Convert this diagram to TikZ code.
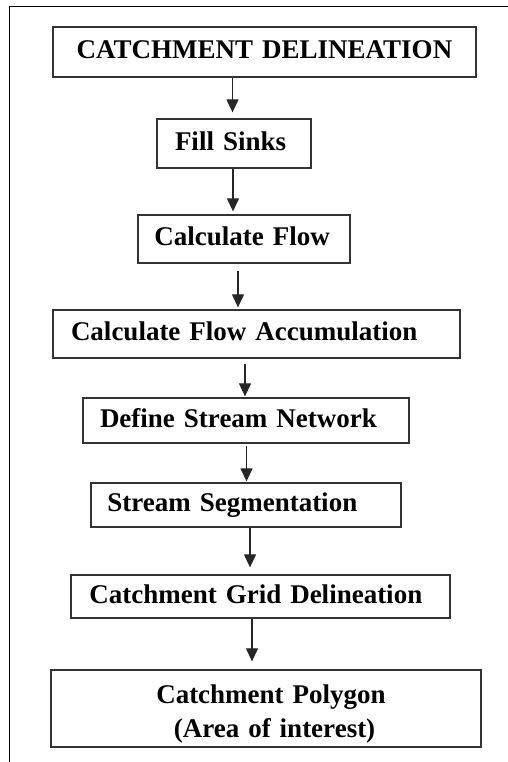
\documentclass[tikz,border=0pt]{standalone}
\usepackage{fontspec}
\setmainfont{Liberation Serif}
\usetikzlibrary{arrows.meta}
\begin{document}
\begin{tikzpicture}[x=1pt,y=-1pt,
  basebox/.style={draw=black!80,line width=1.3pt,inner ysep=0pt,align=left,
    font=\fontsize{27}{30}\selectfont\bfseries},
  box/.style={basebox,text height=18pt,text depth=5pt},
  arr/.style={draw=black!85,line width=1.2pt,-{Triangle[width=12pt,length=13pt]}}]
\useasboundingbox (0,0) rectangle (508,762);
\draw[line width=1pt] (9,762) -- (9,7) -- (508,7);
% boxes: inner xsep = left margin, text width = width - 2*margin
\node[box,minimum height=50pt,inner xsep=19.7pt,text width=383.6pt,align=center] (b1) at (264.5,52) {CATCHMENT DELINEATION};
\node[box,minimum height=49pt,inner xsep=18pt,text width=118pt] (b2) at (234,143.5) {Fill Sinks};
\node[box,minimum height=48pt,inner xsep=16.3pt,text width=179.4pt] (b3) at (244,239) {Calculate Flow};
\node[box,minimum height=48pt,inner xsep=18pt,text width=371pt] (b4) at (256.5,334) {Calculate Flow Accumulation};
\node[box,minimum height=45pt,inner xsep=17pt,text width=292pt] (b5) at (246,420.5) {Define Stream Network};
\node[box,minimum height=44pt,inner xsep=16.3pt,text width=277.4pt] (b6) at (246,505) {Stream Segmentation};
\node[box,minimum height=43pt,inner xsep=18.3pt,text width=342.4pt] (b7) at (260.5,596.5) {Catchment Grid Delineation};
\node[basebox,minimum height=77pt,inner xsep=10pt,text width=410pt,align=center,
  font=\fontsize{27}{34}\selectfont\bfseries] (b8) at (266,708.5) {\rule{0pt}{29pt}\hspace*{10pt}Catchment Polygon\\\hspace*{17pt}(Area of interest)};
% connectors
\draw[arr,shorten >=6pt] ([xshift=-32pt]b1.south) -- ([xshift=-1.5pt]b2.north);
\draw[arr,shorten >=3pt] ([xshift=-1pt]b2.south) -- ([xshift=-11pt]b3.north);
\draw[arr,shorten <=7pt,shorten >=2pt] ([xshift=-6pt]b3.south) -- ([xshift=-18.5pt]b4.north);
\draw[arr,shorten <=5pt,shorten >=1pt] ([xshift=-11.5pt]b4.south) -- ([xshift=-1pt]b5.north);
\draw[arr,shorten <=2pt,shorten >=1pt] ([xshift=0.5pt]b5.south) -- ([xshift=0.5pt]b6.north);
\draw[arr,shorten >=7pt] ([xshift=4pt]b6.south) -- ([xshift=-10.5pt]b7.north);
\draw[arr,shorten >=8pt] ([xshift=-8.5pt]b7.south) -- ([xshift=-14pt]b8.north);
\end{tikzpicture}
\end{document}
